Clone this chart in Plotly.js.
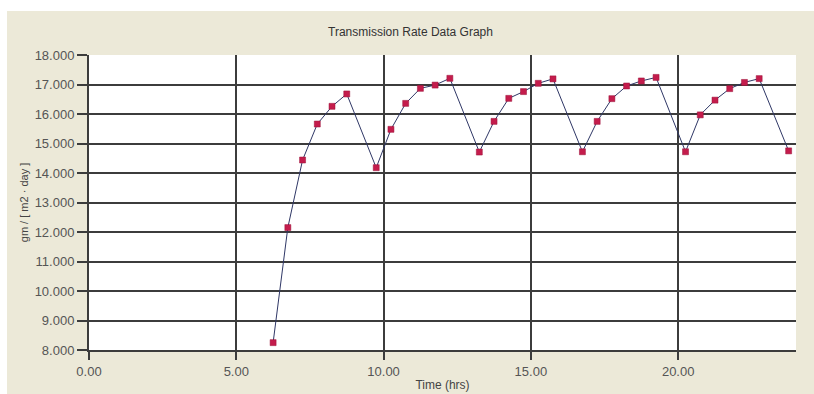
<!DOCTYPE html>
<html>
<head>
<meta charset="utf-8">
<script src="https://cdn.plot.ly/plotly-3.0.1.min.js"></script>
<style>
  html, body { margin: 0; padding: 0; background: #ffffff; width: 814px; height: 394px; overflow: hidden; }
  #chart { position: absolute; left: 7px; top: 11px; width: 807px; height: 383px; }
</style>
</head>
<body>
<div id="chart"></div>
<script>
// Sample times (hours) and transmission rate readings
const timeHrs = [
  6.25, 6.75, 7.25, 7.75, 8.25, 8.75,
  9.75, 10.25, 10.75, 11.25, 11.75, 12.25,
  13.25, 13.75, 14.25, 14.75, 15.25, 15.75,
  16.75, 17.25, 17.75, 18.25, 18.75, 19.25,
  20.25, 20.75, 21.25, 21.75, 22.25, 22.75,
  23.75
];
const rate = [
  8.25, 12.15, 14.44, 15.66, 16.26, 16.68,
  14.18, 15.48, 16.36, 16.87, 16.98, 17.21,
  14.71, 15.75, 16.53, 16.76, 17.04, 17.19,
  14.72, 15.75, 16.52, 16.95, 17.12, 17.24,
  14.72, 15.97, 16.47, 16.86, 17.07, 17.20,
  14.75
];
const xTicks = [0, 5, 10, 15, 20];
const xTickText = ['0.00', '5.00', '10.00', '15.00', '20.00'];
const yTicks = [8, 9, 10, 11, 12, 13, 14, 15, 16, 17, 18];
const yTickText = ['8.000', '9.000', '10.000', '11.000', '12.000', '13.000', '14.000',
                   '15.000', '16.000', '17.000', '18.000'];

const labelFont = { family: 'Liberation Sans, Arial, sans-serif', size: 13, color: '#555555' };
const gridColor = '#3c3c3c';

const trace = {
  x: timeHrs,
  y: rate,
  type: 'scatter',
  mode: 'lines+markers',
  line: { color: '#2f3766', width: 1 },
  marker: { symbol: 'square', size: 6, color: '#c41c4c', line: { color: '#9a1038', width: 0.5 } },
  hoverinfo: 'x+y'
};

const layout = {
  width: 807,
  height: 383,
  margin: { l: 82, r: 18, t: 44, b: 44 },
  paper_bgcolor: '#ece9d8',
  plot_bgcolor: '#ffffff',
  showlegend: false,
  title: {
    text: 'Transmission Rate Data Graph',
    font: { family: 'Liberation Sans, Arial, sans-serif', size: 12, color: '#333333' },
    x: 0.5, xanchor: 'center', y: 0.945, yanchor: 'middle'
  },
  xaxis: {
    range: [0, 24],
    tickvals: xTicks,
    ticktext: xTickText,
    showgrid: true,
    gridcolor: gridColor,
    gridwidth: 2,
    zeroline: false,
    showline: true,
    linecolor: gridColor,
    linewidth: 2,
    ticks: 'outside',
    ticklen: 8,
    tickcolor: gridColor,
    tickwidth: 2,
    tickfont: labelFont,
    title: { text: 'Time (hrs)', font: { family: 'Liberation Sans, Arial, sans-serif', size: 12, color: '#444444' }, standoff: 3 },
    fixedrange: true
  },
  yaxis: {
    range: [8, 18],
    tickvals: yTicks,
    ticktext: yTickText,
    showgrid: true,
    gridcolor: gridColor,
    gridwidth: 2,
    zeroline: false,
    showline: true,
    linecolor: gridColor,
    linewidth: 2,
    ticks: 'outside',
    ticklen: 10,
    tickcolor: gridColor,
    tickwidth: 2,
    tickfont: labelFont,
    title: { text: 'gm / [ m2 · day ]', font: { family: 'Liberation Sans, Arial, sans-serif', size: 11, color: '#444444' }, standoff: 4 },
    fixedrange: true
  }
};

Plotly.newPlot('chart', [trace], layout, { displayModeBar: false, staticPlot: true });
</script>
</body>
</html>
